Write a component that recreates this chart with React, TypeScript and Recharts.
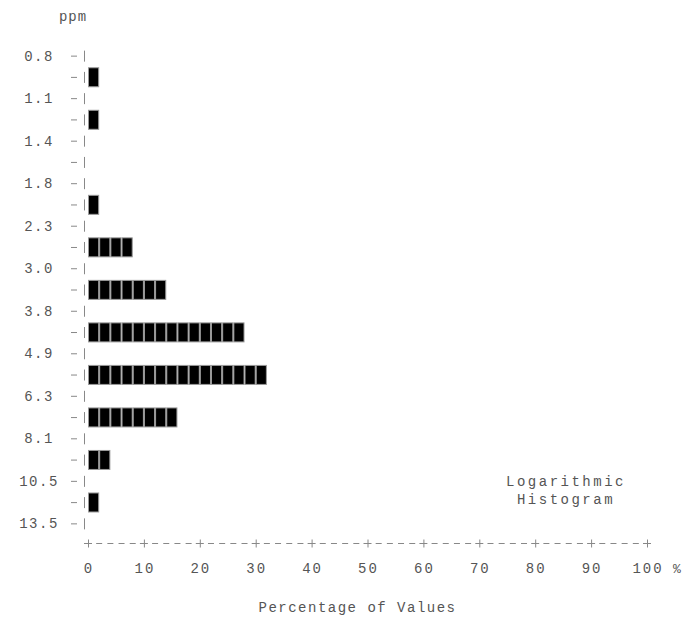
import React from "react";
import { BarChart, Bar, XAxis, YAxis, Label } from "recharts";

// bin edges (ppm, log spaced) and % of values falling in each bin
const binEdges = ["0.8", "1.1", "1.4", "1.8", "2.3", "3.0", "3.8", "4.9", "6.3", "8.1", "10.5", "13.5"];
const binPercents = [2, 2, 0, 2, 8, 14, 28, 32, 16, 4, 2];
const pctTicks = [0, 10, 20, 30, 40, 50, 60, 70, 80, 90, 100];

const W = 685;
const H = 619;
const LEFT = 88;
const RIGHT = 38;
const PLOT_W = W - LEFT - RIGHT;
const STEP = PLOT_W / 50; // one "character" = 2%

const FONT = "'Liberation Mono', 'DejaVu Sans Mono', monospace";
const TXT = "#555";
const AX = "#888";

// edge rows and bin rows alternate, like lines of a text plot
const rows: { key: string; edge: string; pct: number }[] = [];
binEdges.forEach((e, i) => {
  rows.push({ key: `e${i}`, edge: e, pct: 0 });
  if (i < binPercents.length) rows.push({ key: `b${i}`, edge: "", pct: binPercents[i] });
});
const edgeByKey: Record<string, string> = {};
rows.forEach((r) => (edgeByKey[r.key] = r.edge));

const BlockBar = (props: any) => {
  const { x, y, width, height, payload } = props;
  if (!payload || !payload.pct || width <= 0) return null;
  const n = Math.round(payload.pct / 2);
  const bw = width / n;
  const blocks = [];
  for (let i = 0; i < n; i++) {
    blocks.push(
      <rect
        key={i}
        x={x + i * bw + 0.5}
        y={y + 0.5}
        width={bw - 1}
        height={height - 1}
        fill="#000"
        stroke="#999"
        strokeWidth={1}
      />
    );
  }
  return <g>{blocks}</g>;
};

const YTick = (props: any) => {
  const { x, y, payload } = props;
  const label = edgeByKey[payload.value];
  return (
    <g>
      {label ? (
        <text
          x={x - 49}
          y={y + 5}
          textAnchor="middle"
          fill={TXT}
          fontFamily={FONT}
          fontSize={14}
          letterSpacing={1.5}
        >
          {label}
        </text>
      ) : null}
      <line x1={x - 17} x2={x - 11} y1={y + 0.5} y2={y + 0.5} stroke={AX} strokeWidth={1} />
      <line x1={x - 3.5} x2={x - 3.5} y1={y - 5} y2={y + 6} stroke={AX} strokeWidth={1} />
    </g>
  );
};

const XTick = (props: any) => {
  const { x, y, payload } = props;
  const v = payload.value;
  const cy = y + 9.5;
  const marks = [
    <line key="h" x1={x - 4} x2={x + 4} y1={cy} y2={cy} stroke={AX} strokeWidth={1} />,
    <line key="v" x1={x + 0.5} x2={x + 0.5} y1={cy - 4} y2={cy + 4} stroke={AX} strokeWidth={1} />,
  ];
  if (v < 100) {
    for (let k = 1; k < 5; k++) {
      const cx = x + k * STEP;
      marks.push(
        <line key={k} x1={cx - 3} x2={cx + 3} y1={cy} y2={cy} stroke={AX} strokeWidth={1} />
      );
    }
  }
  return (
    <g>
      {marks}
      <text
        x={x + 1}
        y={y + 39}
        textAnchor="middle"
        fill={TXT}
        fontFamily={FONT}
        fontSize={14}
        letterSpacing={2}
      >
        {String(v)}
      </text>
      {v === 100 ? (
        <text x={x + 30} y={y + 39} textAnchor="middle" fill={TXT} fontFamily={FONT} fontSize={13}>
          %
        </text>
      ) : null}
    </g>
  );
};

export default function App() {
  return (
    <div style={{ position: "absolute", left: 0, top: 0, width: W, height: H, background: "#fff" }}>
      <BarChart
        width={W}
        height={H}
        data={rows}
        layout="vertical"
        margin={{ top: 45, right: RIGHT, bottom: 25, left: 0 }}
        barSize={20}
      >
        <XAxis
          type="number"
          domain={[0, 100]}
          ticks={pctTicks}
          axisLine={false}
          tickLine={false}
          tickSize={0}
          tickMargin={0}
          height={60}
          tick={<XTick />}
          interval={0}
        >
          <Label
            content={(p: any) => {
              const vb = p.viewBox;
              return (
                <text
                  x={vb.x + vb.width / 2 - 10}
                  y={vb.y + 78}
                  textAnchor="middle"
                  fontFamily={FONT}
                  fontSize={14}
                  fill={TXT}
                  letterSpacing={1.5}
                >
                  Percentage of Values
                </text>
              );
            }}
          />
        </XAxis>
        <YAxis
          type="category"
          dataKey="key"
          width={LEFT}
          axisLine={false}
          tickLine={false}
          tickSize={0}
          tickMargin={0}
          interval={0}
          tick={<YTick />}
        >
          <Label
            content={(p: any) => {
              const vb = p.viewBox;
              return (
                <text
                  x={73}
                  y={vb.y - 24}
                  textAnchor="middle"
                  fontFamily={FONT}
                  fontSize={14}
                  fill={TXT}
                  letterSpacing={1}
                >
                  ppm
                </text>
              );
            }}
          />
        </YAxis>
        <Bar dataKey="pct" shape={<BlockBar />} isAnimationActive={false} />
      </BarChart>
      <div
        style={{
          position: "absolute",
          left: 480,
          top: 473,
          width: 172,
          textAlign: "center",
          fontFamily: FONT,
          fontSize: 14,
          lineHeight: "18px",
          color: TXT,
          letterSpacing: 2.5,
        }}
      >
        Logarithmic
        <br />
        Histogram
      </div>
    </div>
  );
}
